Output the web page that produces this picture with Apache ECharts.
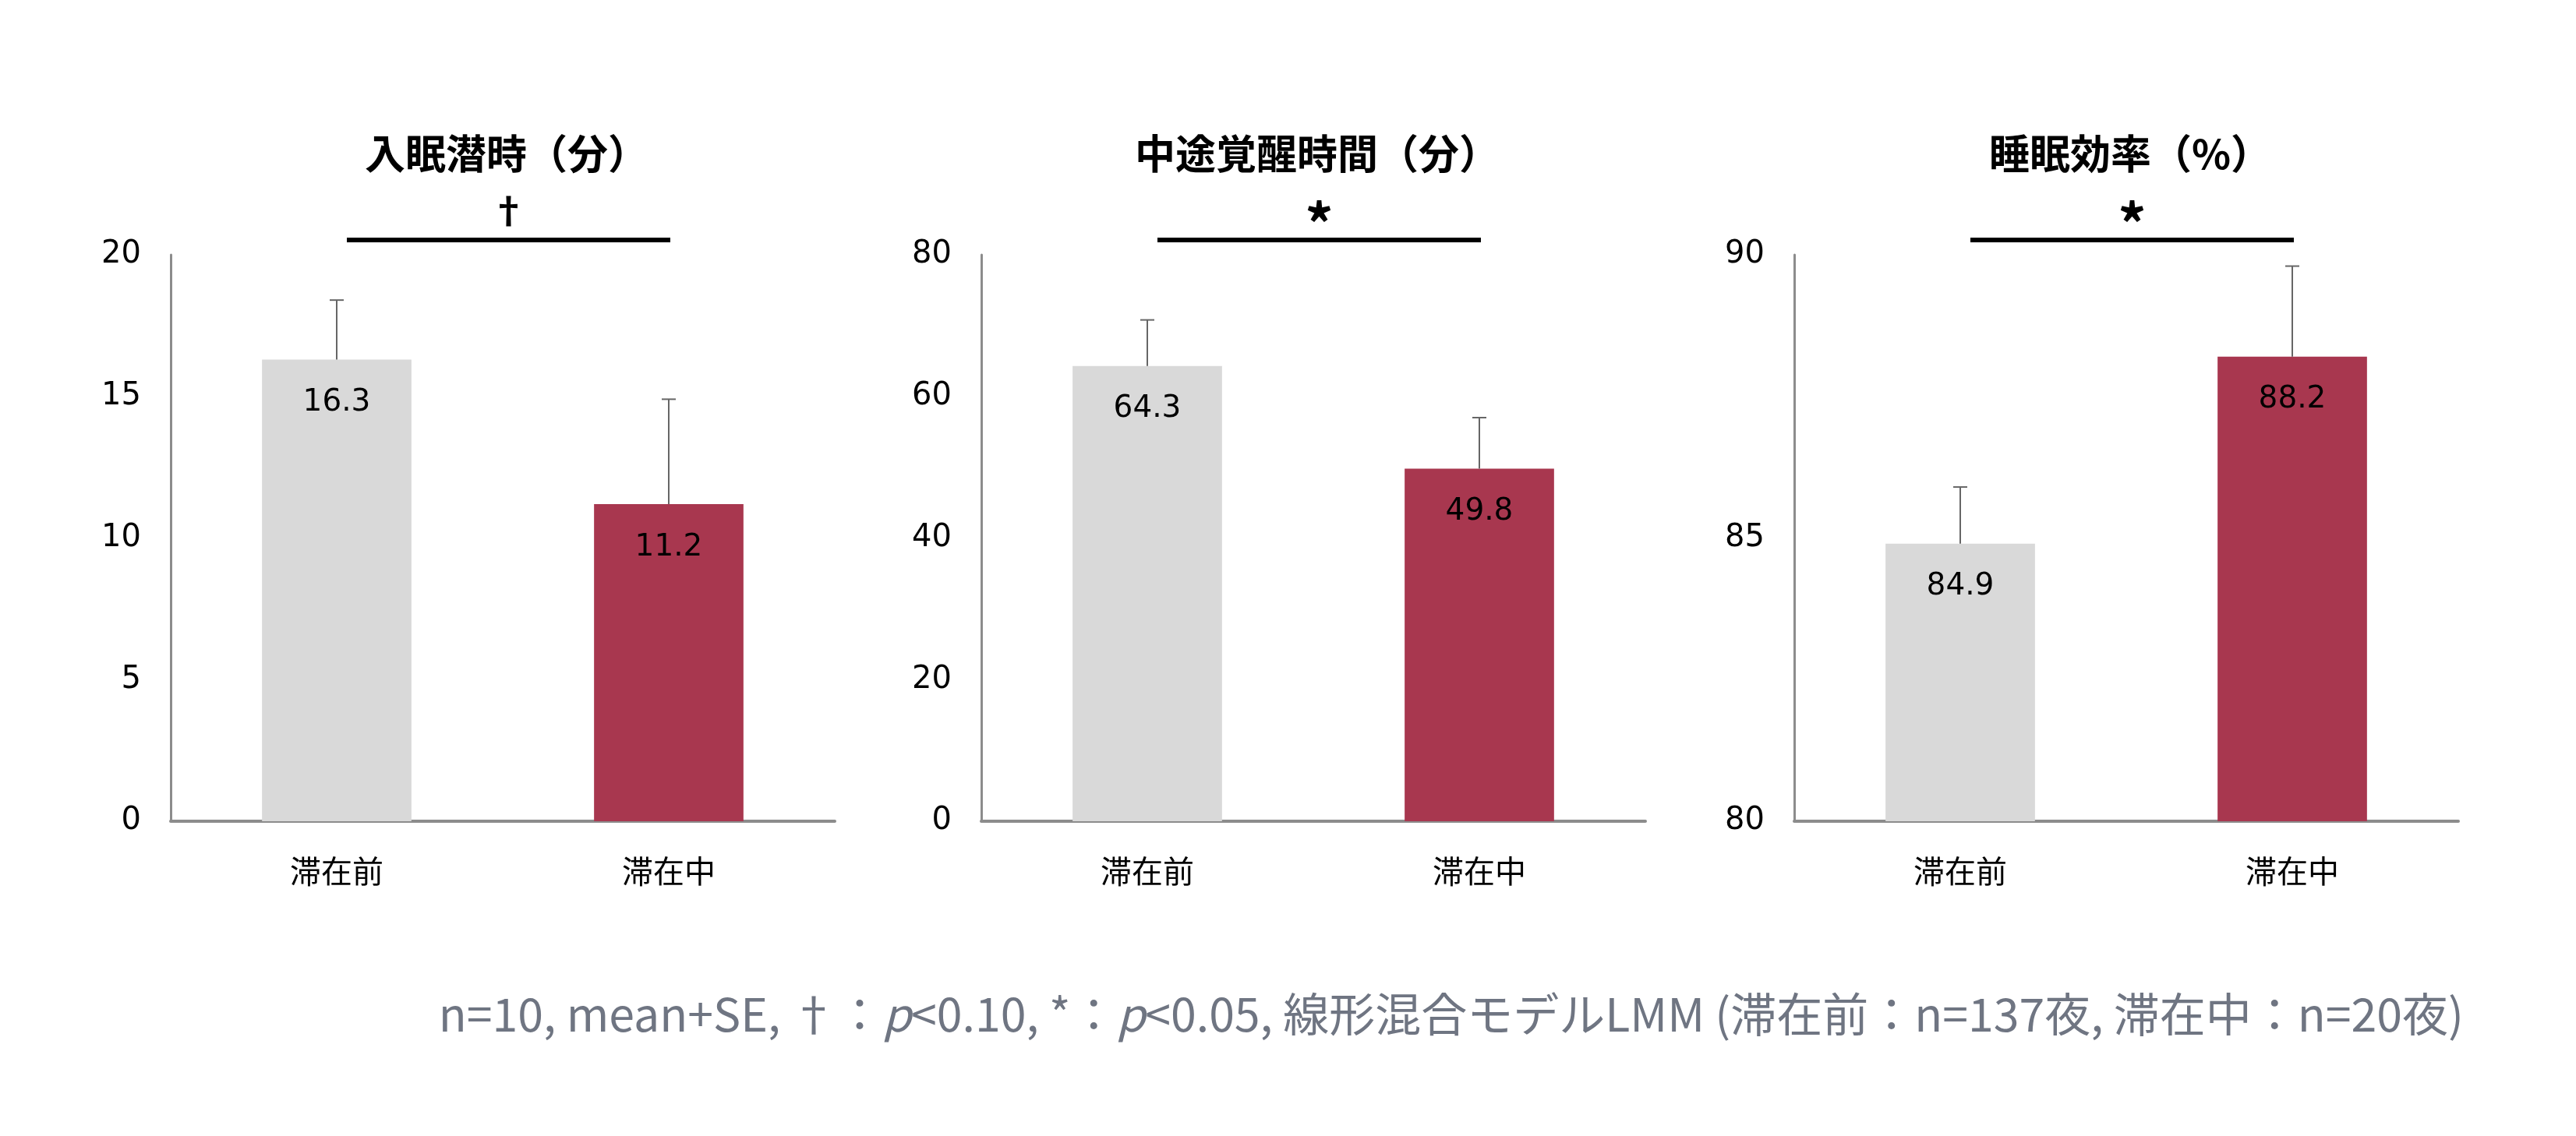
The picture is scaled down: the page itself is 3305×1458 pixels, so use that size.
<!DOCTYPE html>
<html><head><meta charset="utf-8">
<script src="https://cdn.jsdelivr.net/npm/echarts@6/dist/echarts.min.js"></script>
<style>html,body{margin:0;padding:0;background:#fff}#c{width:3305px;height:1458px}</style>
</head><body><div id="c"></div>
<script>
const categories = ['滞在前', '滞在中'];
const titles = ['入眠潜時（分）', '中途覚醒時間（分）', '睡眠効率（%）'];
const latencyMean = [16.3, 11.2];
const latencySE = [2.1, 3.7];
const wasoMean = [64.3, 49.8];
const wasoSE = [6.5, 7.2];
const effMean = [84.9, 88.2];
const effSE = [1.0, 1.6];
const axisMins = [0, 0, 80];
const axisMaxs = [20, 80, 90];
const axisIntervals = [5, 20, 5];
const sigMarks = ['†', '*', '*'];
const sigPairs = [[0, 1], [0, 1], [0, 1]];
const barColors = ['#D9D9D9', '#A8374F'];

const means = [latencyMean, wasoMean, effMean];
const ses = [latencySE, wasoSE, effSE];
const FONT = '"Noto Sans CJK JP", "Noto Sans", sans-serif';
const LFONT = '"DejaVu Sans", "Noto Sans CJK JP", sans-serif';
const gridLefts = [219, 1259, 2302];
const gridW = 852, gridTop = 327, gridH = 727;

const chart = echarts.init(document.getElementById('c'));
const grid = [], xAxis = [], yAxis = [], series = [], title = [];
for (let k = 0; k < 3; k++) {
  grid.push({ left: gridLefts[k], top: gridTop, width: gridW, height: gridH, containLabel: false });
  title.push({
    text: titles[k], left: gridLefts[k] + gridW / 2, top: 166, textAlign: 'center',
    textStyle: { fontFamily: FONT, fontSize: 52, fontWeight: 'bold', color: '#000' }
  });
  xAxis.push({
    type: 'category', gridIndex: k, data: categories,
    axisLine: { lineStyle: { color: '#8c8c8c', width: 4 } },
    axisTick: { show: false },
    axisLabel: { fontFamily: FONT, fontSize: 40, color: '#000', margin: 44 }
  });
  yAxis.push({
    type: 'value', gridIndex: k, min: axisMins[k], max: axisMaxs[k], interval: axisIntervals[k],
    axisLine: { show: true, lineStyle: { color: '#8c8c8c', width: 3 } },
    axisTick: { show: false }, splitLine: { show: false },
    axisLabel: { fontFamily: LFONT, fontSize: 40, color: '#000', margin: 38 }
  });
  series.push({
    type: 'bar', xAxisIndex: k, yAxisIndex: k, barWidth: '45%',
    data: means[k].map((v, i) => ({ value: v, itemStyle: { color: barColors[i] } })),
    label: { show: true, position: 'insideTop', distance: 36, fontFamily: LFONT, fontSize: 39, color: '#000' },
    animation: false
  });
  const mx = axisMaxs[k];
  series.push({
    type: 'custom', xAxisIndex: k, yAxisIndex: k, z: 3, animation: false, silent: true,
    data: means[k].map((m, i) => [i, m, m + ses[k][i]]),
    renderItem: function (params, api) {
      const x = api.value(0);
      const lo = api.coord([x, api.value(1)]);
      const hi = api.coord([x, api.value(2)]);
      const cap = 9;
      return { type: 'group', children: [
        { type: 'line', shape: { x1: lo[0], y1: lo[1], x2: hi[0], y2: hi[1] }, style: { stroke: '#666', lineWidth: 2 } },
        { type: 'line', shape: { x1: hi[0] - cap, y1: hi[1], x2: hi[0] + cap, y2: hi[1] }, style: { stroke: '#666', lineWidth: 2 } }
      ] };
    }
  });
  const mark = sigMarks[k];
  series.push({
    type: 'custom', xAxisIndex: k, yAxisIndex: k, z: 3, animation: false, silent: true, clip: false,
    data: [sigPairs[k]],
    renderItem: function (params, api) {
      const a = api.coord([api.value(0), mx]);
      const b = api.coord([api.value(1), mx]);
      const y = a[1] - 19;
      const x1 = a[0] + 13, x2 = b[0] + 2;
      const isStar = mark === '*';
      return { type: 'group', children: [
        { type: 'line', shape: { x1: x1, y1: y, x2: x2, y2: y }, style: { stroke: '#000', lineWidth: 6 } },
        { type: 'text', style: { text: mark, x: (x1 + x2) / 2, y: isStar ? y - 20 : y - 38, align: 'center', verticalAlign: 'middle',
          fontFamily: FONT, fontSize: isStar ? 72 : 46, fontWeight: 'bold', fill: '#000' } }
      ] };
    }
  });
}
title.push({
  text: 'n=10, mean+SE, †：{i|p}<0.10, *：{i|p}<0.05, 線形混合モデルLMM (滞在前：n=137夜, 滞在中：n=20夜)',
  right: 139, top: 1267,
  textStyle: { fontFamily: FONT, fontSize: 59, fontWeight: 'normal', color: '#6f7582',
    rich: { i: { fontFamily: FONT, fontSize: 59, fontStyle: 'italic', color: '#6f7582' } } }
});
chart.setOption({ backgroundColor: '#fff', animation: false, title, grid, xAxis, yAxis, series });
</script></body></html>
